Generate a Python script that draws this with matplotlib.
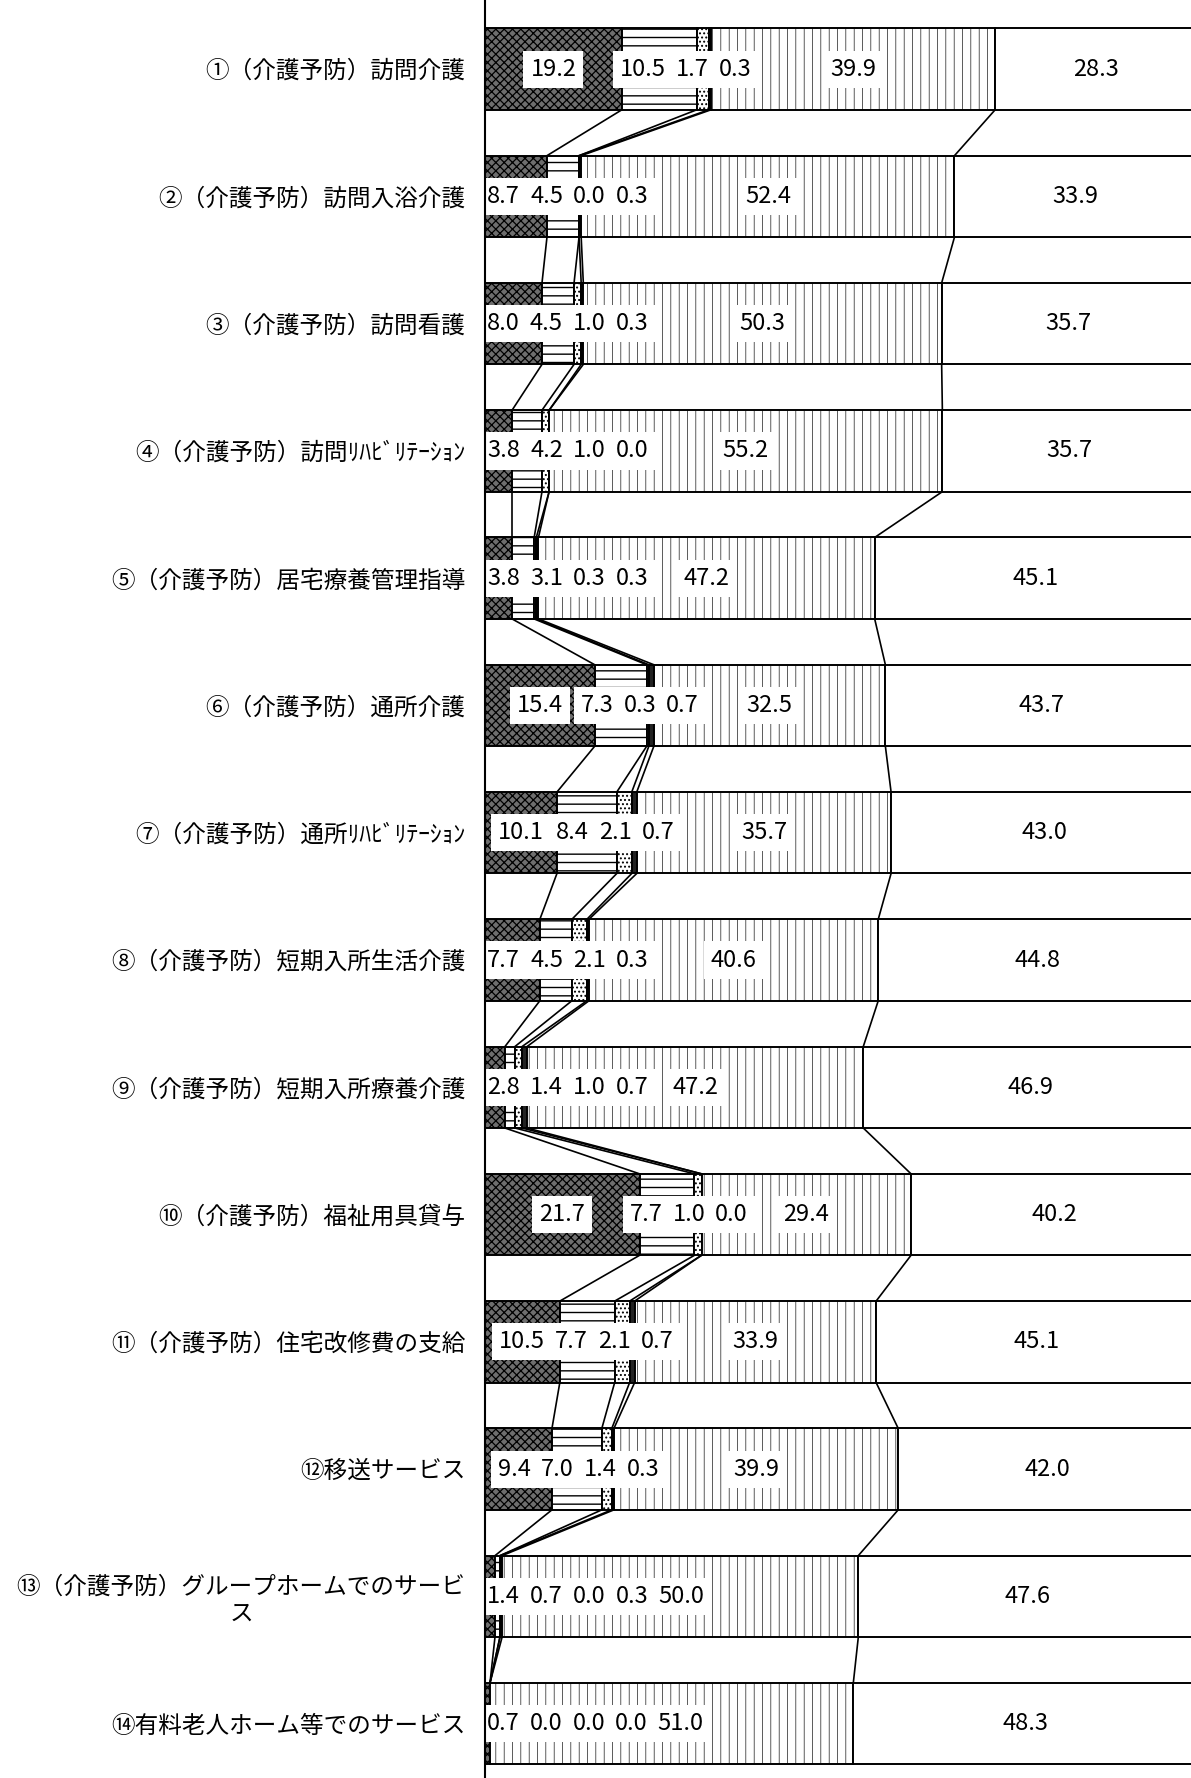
import numpy as np
import matplotlib
matplotlib.use("Agg")
import matplotlib.pyplot as plt

plt.rcParams['font.family'] = ['Noto Sans CJK JP', 'DejaVu Sans']
plt.rcParams['hatch.linewidth'] = 0.9

categories = [
    "①（介護予防）訪問介護",
    "②（介護予防）訪問入浴介護",
    "③（介護予防）訪問看護",
    "④（介護予防）訪問ﾘﾊﾋﾞﾘﾃｰｼｮﾝ",
    "⑤（介護予防）居宅療養管理指導",
    "⑥（介護予防）通所介護",
    "⑦（介護予防）通所ﾘﾊﾋﾞﾘﾃｰｼｮﾝ",
    "⑧（介護予防）短期入所生活介護",
    "⑨（介護予防）短期入所療養介護",
    "⑩（介護予防）福祉用具貸与",
    "⑪（介護予防）住宅改修費の支給",
    "⑫移送サービス",
    "⑬（介護予防）グループホームでのサービ\nス",
    "⑭有料老人ホーム等でのサービス",
]
s1 = [19.2, 8.7, 8.0, 3.8, 3.8, 15.4, 10.1, 7.7, 2.8, 21.7, 10.5, 9.4, 1.4, 0.7]
s2 = [10.5, 4.5, 4.5, 4.2, 3.1, 7.3, 8.4, 4.5, 1.4, 7.7, 7.7, 7.0, 0.7, 0.0]
s3 = [1.7, 0.0, 1.0, 1.0, 0.3, 0.3, 2.1, 2.1, 1.0, 1.0, 2.1, 1.4, 0.0, 0.0]
s4 = [0.3, 0.3, 0.3, 0.0, 0.3, 0.7, 0.7, 0.3, 0.7, 0.0, 0.7, 0.3, 0.3, 0.0]
s5 = [39.9, 52.4, 50.3, 55.2, 47.2, 32.5, 35.7, 40.6, 47.2, 29.4, 33.9, 39.9, 50.0, 51.0]
s6 = [28.3, 33.9, 35.7, 35.7, 45.1, 43.7, 43.0, 44.8, 46.9, 40.2, 45.1, 42.0, 47.6, 48.3]

series = [s1, s2, s3, s4, s5, s6]
faces = ['#6e6e6e', 'white', 'white', '#222222', 'white', 'white']
hatches = ['xxxx', '--', '....', '', '||', '']
hatch_lw = [0.9, 1.0, 0.9, 0.9, 0.45, 0.9]

W, H = 1191, 1778
fig = plt.figure(figsize=(W / 100, H / 100), dpi=100)
ax_left = 485 / W
ax = fig.add_axes([ax_left, 0, 1 - ax_left, 1])

n = len(categories)
y = np.arange(n)
bh = 0.64
ax.set_ylim(n - 1 + 0.427, -0.543)
ax.set_xlim(0, 99.1)

data = np.array(series, dtype=float)
cum = np.cumsum(data, axis=0)
left = np.vstack([np.zeros(n), cum[:-1]])

for k in range(6):
    bars = ax.barh(y, data[k], left=left[k], height=bh, color=faces[k],
                   edgecolor='black', linewidth=1.4, hatch=hatches[k], zorder=2)
    for b in bars:
        if hasattr(b, 'set_hatch_linewidth'):
            b.set_hatch_linewidth(hatch_lw[k])

# connector lines between consecutive bars
for k in range(5):
    for i in range(n - 1):
        ax.plot([cum[k][i], cum[k][i + 1]], [i + bh / 2, i + 1 - bh / 2],
                color='black', lw=1.2, zorder=1)

for sp in ['top', 'right', 'bottom']:
    ax.spines[sp].set_visible(False)
ax.spines['left'].set_linewidth(1.5)
ax.spines['left'].set_zorder(5)
ax.set_xticks([])
ax.set_yticks(y)
ax.set_yticklabels(categories, fontsize=17)
for t in ax.get_yticklabels():
    t.set_multialignment('center')
ax.tick_params(axis='y', length=0, pad=14)

fs = 17
fig.canvas.draw()
r = fig.canvas.get_renderer()
ppu = ax.transData.transform((1, 0))[0] - ax.transData.transform((0, 0))[0]
gap = 10 / ppu


def layout(c, w, lo):
    clusters = [[i] for i in range(len(c))]

    def place(cl):
        offs = [0.0]
        for a, b in zip(cl[:-1], cl[1:]):
            offs.append(offs[-1] + (w[a] + w[b]) / 2 + gap)
        start = np.mean([c[i] for i in cl]) - np.mean(offs)
        start = max(start, lo + w[cl[0]] / 2)
        return [start + o for o in offs]

    changed = True
    while changed:
        changed = False
        pos = [place(cl) for cl in clusters]
        for k in range(len(clusters) - 1):
            a = clusters[k][-1]
            b = clusters[k + 1][0]
            if pos[k][-1] + (w[a] + w[b]) / 2 + gap > pos[k + 1][0] + 1e-9:
                clusters[k] = clusters[k] + clusters[k + 1]
                del clusters[k + 1]
                changed = True
                break
    pos = [place(cl) for cl in clusters]
    out = []
    for p in pos:
        out.extend(p)
    return out


for i in range(n):
    labels = [f"{data[k][i]:.1f}" for k in range(6)]
    centers = [left[k][i] + data[k][i] / 2 for k in range(6)]
    texts = []
    widths = []
    for k in range(6):
        t = ax.text(centers[k], i, labels[k], ha='center', va='center',
                    fontsize=fs, zorder=4,
                    bbox=dict(boxstyle='square,pad=0.3', fc='white', ec='none'))
        texts.append(t)
        widths.append(t.get_window_extent(r).width / ppu)
    pos = layout(centers[:5], widths[:5], 0.3)
    for k in range(5):
        texts[k].set_x(pos[k])

fig.savefig('out.png', dpi=100)
